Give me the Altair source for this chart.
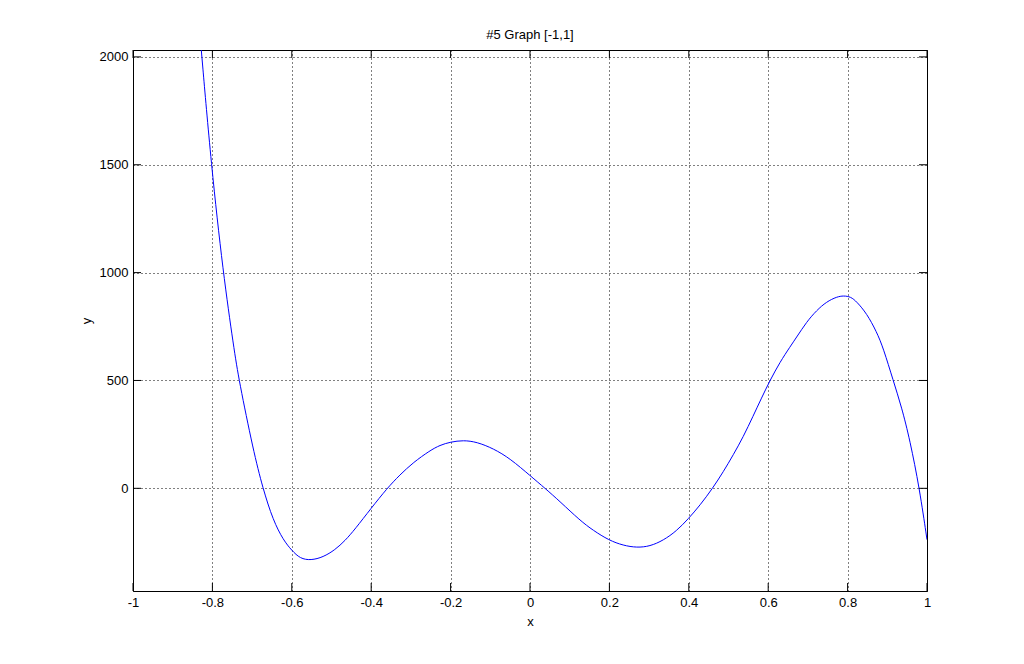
import altair as alt
import pandas as pd

# Curve samples
xs = [-0.828, -0.803, -0.773, -0.746, -0.733, -0.697, -0.673, -0.647, -0.621, -0.600,
      -0.579, -0.552, -0.521, -0.491, -0.466, -0.441, -0.400, -0.360, -0.328, -0.294,
      -0.252, -0.227, -0.200, -0.168, -0.134, -0.092, -0.050, 0.002, 0.038, 0.076,
      0.126, 0.159, 0.199, 0.235, 0.269, 0.302, 0.336, 0.369, 0.399, 0.428,
      0.460, 0.487, 0.512, 0.537, 0.562, 0.583, 0.605, 0.630, 0.655, 0.672,
      0.697, 0.722, 0.747, 0.773, 0.790, 0.808, 0.823, 0.848, 0.873, 0.890,
      0.915, 0.936, 0.957, 0.981, 1.000]
ys = [2032, 1500, 1000, 650, 500, 176, 0, -149, -241, -288,
      -326, -334, -319, -285, -243, -190, -92, 0, 62, 120,
      175, 200, 215, 223, 215, 184, 138, 56, 0, -62,
      -149, -195, -241, -265, -275, -269, -241, -198, -141, -79,
      0, 77, 155, 238, 335, 418, 502, 586, 656, 702,
      772, 825, 865, 888, 893, 888, 865, 811, 726, 650,
      499, 377, 223, 0, -238]

x_ticks = [-1, -0.8, -0.6, -0.4, -0.2, 0, 0.2, 0.4, 0.6, 0.8, 1]
y_ticks = [0, 500, 1000, 1500, 2000]

X_DOMAIN = [-1, 1]
Y_DOMAIN = [-476, 2032]
W, H = 794, 541
FONT = "Liberation Sans"
TL = 8  # inward tick length

curve = pd.DataFrame({"x": xs, "y": ys})
xt = pd.DataFrame({"x": x_ticks})
yt = pd.DataFrame({"y": y_ticks})

xscale = alt.Scale(domain=X_DOMAIN, nice=False, zero=False)
yscale = alt.Scale(domain=Y_DOMAIN, nice=False, zero=False)

label_expr = "replace(format(datum.value, '~g'), '\u2212', '-')"

common = dict(grid=True, ticks=False, domain=False, labelExpr=label_expr,
              labelFont=FONT, labelFontSize=13, titleFont=FONT, titleFontSize=13,
              titleFontWeight="normal", labelColor="black", titleColor="black",
              gridColor="black", gridDash=[1, 3], gridOpacity=1, gridWidth=1,
              labelFlush=False)
x_axis = alt.Axis(values=x_ticks, title="x", labelPadding=5, titlePadding=6, **common)
y_axis = alt.Axis(values=y_ticks, title="y", labelPadding=5, titlePadding=6, **common)

line = alt.Chart(curve).mark_line(color="#0000FF", strokeWidth=1, clip=True,
                                  interpolate="basis").encode(
    x=alt.X("x:Q", scale=xscale, axis=x_axis),
    y=alt.Y("y:Q", scale=yscale, axis=y_axis),
)

def xtick(y0, y1):
    return alt.Chart(xt).mark_rule(color="black", strokeWidth=1).encode(
        x=alt.X("x:Q", scale=xscale, axis=x_axis),
        y=alt.value(y0), y2=alt.value(y1))

def ytick(x0, x1):
    return alt.Chart(yt).mark_rule(color="black", strokeWidth=1).encode(
        y=alt.Y("y:Q", scale=yscale, axis=y_axis),
        x=alt.value(x0), x2=alt.value(x1))

chart = alt.layer(
    line,
    xtick(H, H - TL), xtick(0, TL),
    ytick(0, TL), ytick(W, W - TL),
).properties(
    width=W, height=H,
    background="white",
    title=alt.TitleParams("#5 Graph [-1,1]", font=FONT, fontSize=13,
                          fontWeight="normal", color="black", offset=8),
    autosize=alt.AutoSizeParams(type="none"),
    padding={"left": 125, "top": 42, "right": 80, "bottom": 60},
).configure_view(
    stroke="black", strokeWidth=1
)

chart.save("out.html", embed_options={"renderer": "svg", "actions": False})
